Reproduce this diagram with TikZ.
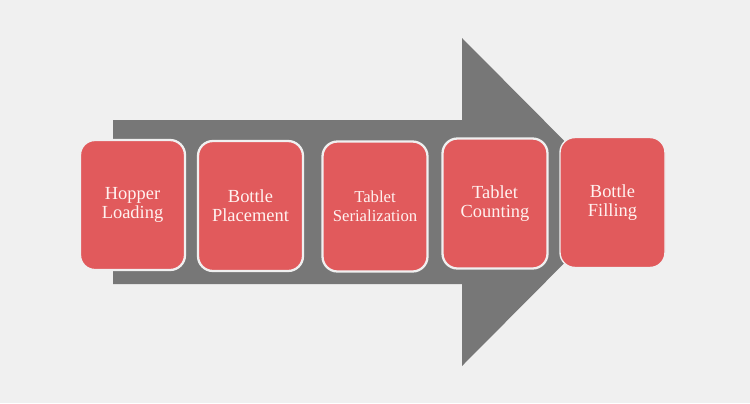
\documentclass[tikz,border=0pt]{standalone}
\usepackage{fontspec}
\setmainfont{Liberation Serif}
\usetikzlibrary{positioning}
\definecolor{pagegray}{RGB}{240,240,240}
\definecolor{arrowgray}{RGB}{119,119,119}
\definecolor{stepred}{RGB}{225,90,92}
\definecolor{steptext}{RGB}{255,242,240}

\begin{document}
\begin{tikzpicture}[
    x=0.02cm, y=-0.02cm,
    stepbox/.style={rectangle, rounded corners=8.5pt, draw=pagegray, line width=1.3pt,
                    fill=stepred, text=steptext, align=center,
                    minimum width=2.1cm, minimum height=2.6cm,
                    font=\fontsize{10.5}{11}\selectfont}
]

% background and big arrow
\fill[pagegray] (0,0) rectangle (750,403);
\fill[arrowgray] (113,120) -- (462,120) -- (462,38) -- (625,202)
    -- (462,366) -- (462,284) -- (113,284) -- cycle;

\node[stepbox] (hopper) at (132.5,205) {Hopper\\Loading};
\node[stepbox] (placement) at (250.5,206) {Bottle\\Placement};
\node[stepbox, font=\fontsize{9.5}{11}\selectfont] (serial) at (375,206.5) {Tablet\\Serialization};
\node[stepbox] (counting) at (495,203.5) {Tablet\\Counting};
\node[stepbox, line width=0.8pt] (filling) at (612.5,202.5) {Bottle\\Filling};

\end{tikzpicture}
\end{document}
